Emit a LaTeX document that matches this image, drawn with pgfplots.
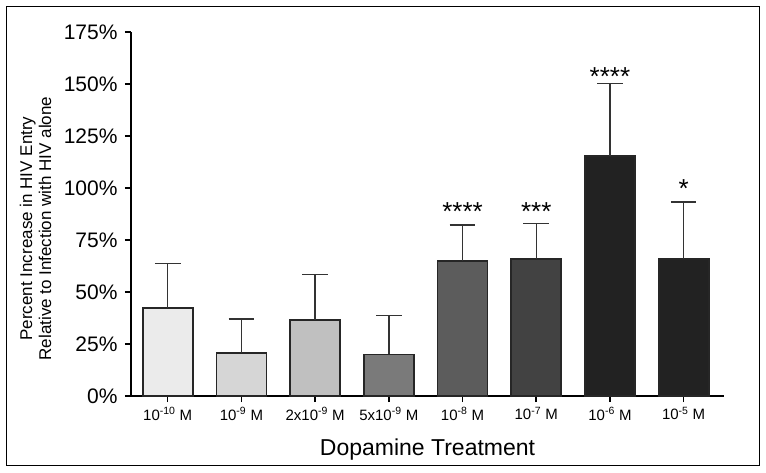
\documentclass[border=0pt]{standalone}
\usepackage{fontspec}
\setmainfont{Liberation Sans}
\usepackage{pgfplots}
\pgfplotsset{compat=1.18}
\definecolor{c1}{HTML}{EBEBEB}
\definecolor{c2}{HTML}{D6D6D6}
\definecolor{c3}{HTML}{C0C0C0}
\definecolor{c4}{HTML}{7A7A7A}
\definecolor{c5}{HTML}{5C5C5C}
\definecolor{c6}{HTML}{424242}
\definecolor{c7}{HTML}{222222}
\definecolor{c8}{HTML}{222222}
\definecolor{edge}{HTML}{262626}

\newcommand{\sz}[1]{\fontsize{#1}{#1}\selectfont}

\begin{document}
\begin{tikzpicture}
\useasboundingbox (0,0) rectangle (766pt,472pt);
\draw[line width=1.5pt, black] (6.5pt,6.5pt) rectangle (759.5pt,465.5pt);

\begin{axis}[
    at={(131pt,76pt)}, anchor=south west,
    scale only axis,
    width=593pt, height=364pt,
    xmin=-0.498, xmax=7.548,
    ymin=0, ymax=175,
    axis x line*=bottom, axis y line*=left,
    axis line style={line width=1.6pt, black, -},
    tick align=outside,
    major tick length=6pt,
    tick style={line width=1.5pt, black},
    xtick={0,1,2,3,4,5,6,7},
    xticklabels={10\textsuperscript{-10} M, 10\textsuperscript{-9} M, 2x10\textsuperscript{-9} M, 5x10\textsuperscript{-9} M, 10\textsuperscript{-8} M, 10\textsuperscript{-7} M, 10\textsuperscript{-6} M, 10\textsuperscript{-5} M},
    ytick={0,25,50,75,100,125,150,175},
    yticklabels={0\%,25\%,50\%,75\%,100\%,125\%,150\%,175\%},
    x tick label style={font=\sz{15}, yshift=-2pt},
    y tick label style={font=\sz{21}, xshift=-4pt},
    xlabel={Dopamine Treatment},
    xlabel style={font=\sz{23}, yshift=-12pt},
    ylabel={Percent Increase in HIV Entry\\[2pt]Relative to Infection with HIV alone},
    ylabel style={font=\sz{17}, align=center, at={(axis description cs:-0.161,0.46)}, anchor=center},
    ybar, bar width=50pt, bar shift=0pt,
    clip=false,
    every axis plot/.append style={draw=edge, line width=1.8pt},
    error bars/y dir=plus, error bars/y explicit,
    error bars/error bar style={line width=1.4pt, color=black!80},
    error bars/error mark options={rotate=90, mark size=12.8pt, line width=1.4pt, color=black!80},
]
\addplot[fill=c1] coordinates {(0,42.4) +- (0,21.2)};
\addplot[fill=c2] coordinates {(1,20.5) +- (0,16.5)};
\addplot[fill=c3] coordinates {(2,36.5) +- (0,21.8)};
\addplot[fill=c4] coordinates {(3,20.0) +- (0,18.8)};
\addplot[fill=c5] coordinates {(4,65.0) +- (0,17.2)};
\addplot[fill=c6] coordinates {(5,65.9) +- (0,16.9)};
\addplot[fill=c7] coordinates {(6,115.5) +- (0,34.6)};
\addplot[fill=c8] coordinates {(7,66.0) +- (0,27.3)};

\addplot[draw=none, fill=none, mark=none, ybar=0pt,
    nodes near coords, point meta=explicit symbolic,
    every node near coord/.style={anchor=base, font=\sz{26}, black, inner sep=0pt}]
    table[meta=s] {
x y s
4 84.6 ****
5 84.6 ***
6 149.5 ****
7 95.2 *
};
\end{axis}
\end{tikzpicture}
\end{document}
